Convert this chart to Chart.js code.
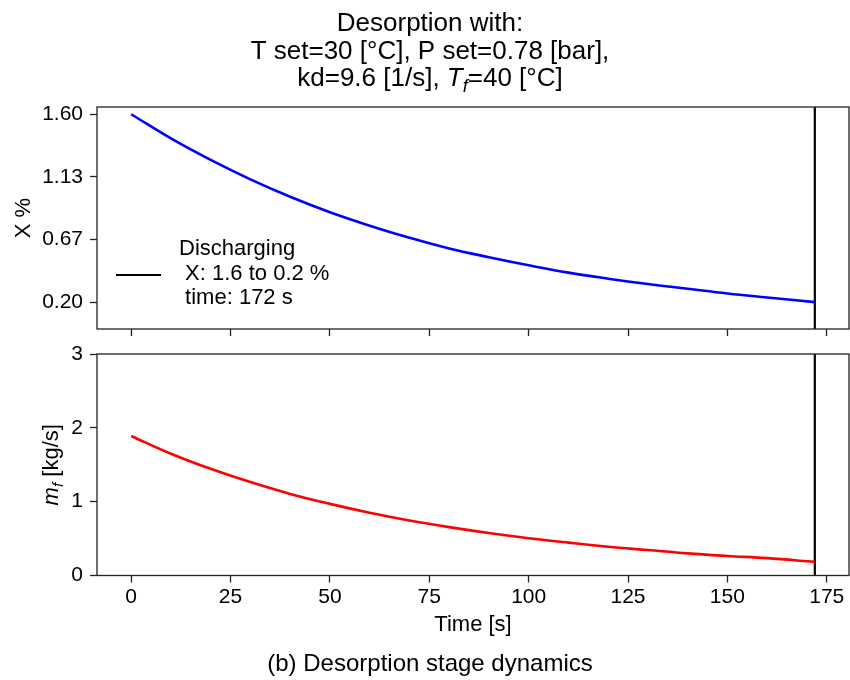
<!DOCTYPE html>
<html>
<head>
<meta charset="utf-8">
<title>Desorption stage dynamics</title>
<script src="https://cdn.jsdelivr.net/npm/chart.js@4.4.1/dist/chart.umd.min.js"></script>
<style>
    body { margin: 0; background: #fff; }
    #wrap { position: relative; width: 850px; height: 680px; }
    .box { position: absolute; left: 0; width: 850px; height: 340px; }
    #topBox { top: 0; }
    #bottomBox { top: 340px; }
</style>
</head>
<body>
<div id="wrap">
    <div class="box" id="topBox"><canvas id="topChart"></canvas></div>
    <div class="box" id="bottomBox"><canvas id="bottomChart"></canvas></div>
</div>
<script>
// Data
const timeS = [0, 10, 20, 30, 40, 50, 60, 70, 80, 90, 100, 110, 120, 130, 140, 150, 160, 172];
const moistureX = [1.60, 1.42, 1.26, 1.115, 0.985, 0.87, 0.77, 0.68, 0.60, 0.535, 0.475, 0.42, 0.375, 0.335, 0.30, 0.265, 0.235, 0.20];
const flowMf = [1.89, 1.65, 1.445, 1.265, 1.105, 0.97, 0.85, 0.745, 0.655, 0.575, 0.505, 0.445, 0.39, 0.345, 0.30, 0.265, 0.235, 0.185];
const endTime = 172;

const xTicks = [0, 25, 50, 75, 100, 125, 150, 175];
const xRange = [-8.6, 180.6];
const topYTicks = [0.2, 0.6667, 1.1333, 1.6];
const topYRange = [0, 1.654];
const bottomYTicks = [0, 1, 2, 3];
const bottomYRange = [0, 3];

const titleLines = [
    [{ t: 'Desorption with:' }],
    [{ t: 'T set=30 [°C], P set=0.78 [bar],' }],
    [{ t: 'kd=9.6 [1/s], ' }, { t: 'T', it: true }, { t: 'f', it: true, sub: true }, { t: '=40 [°C]' }]
];
const topYLabel = [{ t: 'X %' }];
const bottomYLabel = [{ t: 'm', it: true }, { t: 'f', it: true, sub: true }, { t: ' [kg/s]' }];
const xLabel = 'Time [s]';
const legendLines = ['Discharging', ' X: 1.6 to 0.2 %', ' time: 172 s'];
const caption = '(b) Desorption stage dynamics';

const FONT = "'Liberation Sans', Arial, Helvetica, sans-serif";
const spineColor = '#222';
Chart.defaults.font.family = FONT;
Chart.defaults.color = '#000';

// Draws a line of text made of normal / italic / subscript pieces
function richWidth(ctx, parts, size) {
    let w = 0;
    parts.forEach(p => {
        const s = p.sub ? size * 0.7 : size;
        ctx.font = (p.it ? 'italic ' : '') + s + 'px ' + FONT;
        w += ctx.measureText(p.t).width;
    });
    return w;
}
function drawRich(ctx, parts, x, y, size) {
    let cx = x - richWidth(ctx, parts, size) / 2;
    ctx.textAlign = 'left';
    ctx.textBaseline = 'alphabetic';
    parts.forEach(p => {
        const s = p.sub ? size * 0.7 : size;
        ctx.font = (p.it ? 'italic ' : '') + s + 'px ' + FONT;
        ctx.fillText(p.t, cx, p.sub ? y + size * 0.22 : y);
        cx += ctx.measureText(p.t).width;
    });
}

function xScale(showLabels, height) {
    return {
        type: 'linear',
        min: xRange[0],
        max: xRange[1],
        afterBuildTicks: s => { s.ticks = xTicks.map(v => ({ value: v })); },
        afterFit: s => { s.height = height; s.paddingLeft = 0; s.paddingRight = 0; },
        grid: { drawOnChartArea: false, drawTicks: true, tickLength: 7, tickColor: spineColor, tickWidth: 1.3 },
        border: { display: false },
        ticks: {
            display: showLabels,
            autoSkip: false,
            maxRotation: 0,
            padding: 2.5,
            font: { size: 21 },
            callback: v => String(v)
        },
        title: {
            display: showLabels,
            text: xLabel,
            font: { size: 22 },
            padding: { top: 0, bottom: 41.5 }
        }
    };
}

function yScale(range, ticks, fmt) {
    return {
        type: 'linear',
        min: range[0],
        max: range[1],
        afterBuildTicks: s => { s.ticks = ticks.map(v => ({ value: v })); },
        afterFit: s => { s.width = 97; s.paddingTop = 0; s.paddingBottom = 0; },
        grid: { drawOnChartArea: false, drawTicks: true, tickLength: 7, tickColor: spineColor, tickWidth: 1.3 },
        border: { display: false },
        ticks: { autoSkip: false, padding: 7, font: { size: 21 }, callback: fmt }
    };
}

function frame(ctx, a) {
    ctx.save();
    ctx.strokeStyle = spineColor;
    ctx.lineWidth = 1.3;
    ctx.strokeRect(a.left, a.top, a.right - a.left, a.bottom - a.top);
    ctx.restore();
}

// Top panel extras: frame, title, y label, legend
const topExtras = {
    id: 'topExtras',
    afterDraw(chart) {
        const ctx = chart.ctx, a = chart.chartArea;
        frame(ctx, a);
        ctx.save();
        ctx.fillStyle = '#000';
        titleLines.forEach((line, i) => drawRich(ctx, line, 430, 31 + i * 27.7, 26));

        ctx.save();
        ctx.translate(30.4, (a.top + a.bottom) / 2);
        ctx.rotate(-Math.PI / 2);
        drawRich(ctx, topYLabel, 0, 0, 22);
        ctx.restore();

        // legend: handle + three text lines
        const hy = a.top + 168;
        ctx.strokeStyle = '#000';
        ctx.lineWidth = 2.2;
        ctx.beginPath();
        ctx.moveTo(a.left + 19, hy);
        ctx.lineTo(a.left + 64, hy);
        ctx.stroke();
        ctx.font = '22px ' + FONT;
        ctx.textAlign = 'left';
        ctx.textBaseline = 'alphabetic';
        legendLines.forEach((s, i) => ctx.fillText(s, a.left + 82, a.top + 148 + i * 24.5));
        ctx.restore();
    }
};

// Bottom panel extras: frame, y label, caption
const bottomExtras = {
    id: 'bottomExtras',
    afterDraw(chart) {
        const ctx = chart.ctx, a = chart.chartArea;
        frame(ctx, a);
        ctx.save();
        ctx.fillStyle = '#000';
        ctx.translate(58.2, (a.top + a.bottom) / 2);
        ctx.rotate(-Math.PI / 2);
        drawRich(ctx, bottomYLabel, 0, 0, 22);
        ctx.restore();
        ctx.save();
        ctx.fillStyle = '#000';
        drawRich(ctx, [{ t: caption }], 430, 331, 24);
        ctx.restore();
    }
};

const baseOpts = {
    responsive: true,
    maintainAspectRatio: false,
    animation: false,
    plugins: { legend: { display: false }, tooltip: { enabled: false } },
    elements: { point: { radius: 0 } }
};

new Chart(document.getElementById('topChart'), {
    type: 'line',
    data: {
        datasets: [{
            label: 'X %',
            data: timeS.map((t, i) => ({ x: t, y: moistureX[i] })),
            borderColor: '#0000ff',
            borderWidth: 2.6,
            tension: 0.4
        }, {
            label: 'Discharging',
            data: [{ x: endTime, y: topYRange[0] }, { x: endTime, y: topYRange[1] }],
            borderColor: '#000',
            borderWidth: 2.2
        }]
    },
    options: Object.assign({}, baseOpts, {
        layout: { padding: { top: 107, left: 0, right: 1, bottom: 0 } },
        scales: {
            x: xScale(false, 11),
            y: yScale(topYRange, topYTicks, v => v.toFixed(2))
        }
    }),
    plugins: [topExtras]
});

new Chart(document.getElementById('bottomChart'), {
    type: 'line',
    data: {
        datasets: [{
            label: 'm_f',
            data: timeS.map((t, i) => ({ x: t, y: flowMf[i] })),
            borderColor: '#ff0000',
            borderWidth: 2.6,
            tension: 0.4
        }, {
            label: 'Discharging',
            data: [{ x: endTime, y: bottomYRange[0] }, { x: endTime, y: bottomYRange[1] }],
            borderColor: '#000',
            borderWidth: 2.2
        }]
    },
    options: Object.assign({}, baseOpts, {
        layout: { padding: { top: 14, left: 0, right: 1, bottom: 0 } },
        scales: {
            x: xScale(true, 104.5),
            y: yScale(bottomYRange, bottomYTicks, v => String(v))
        }
    }),
    plugins: [bottomExtras]
});
</script>
</body>
</html>
